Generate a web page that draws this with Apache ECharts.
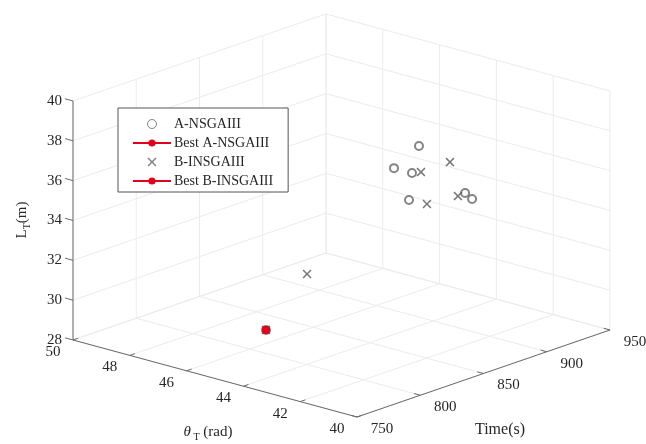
<!DOCTYPE html>
<html><head><meta charset="utf-8">
<script src="https://cdn.jsdelivr.net/npm/echarts@6/dist/echarts.min.js"></script>
<style>html,body{margin:0;padding:0;background:#fff}#c{width:646px;height:444px}</style>
</head><body><div id="c"></div>
<script>
// ---- tick values ----
const thetaTicks = [40, 42, 44, 46, 48, 50];
const timeTicks  = [750, 800, 850, 900, 950];
const lenTicks   = [28, 30, 32, 34, 36, 38, 40];

// ---- A-NSGAIII solutions ----
const aTheta = [44.0, 45.0, 44.5, 44.2, 43.5, 43.2, 46.5];
const aTime  = [888.8, 891.5, 894.5, 885.4, 914.0, 912.8, 824.0];
const aLen   = [37.03, 35.47, 35.35, 34.31, 34.31, 34.15, 28.24];

// ---- B-INSGAIII solutions ----
const bTheta = [43.8, 44.3, 44.0, 43.6, 46.0, 46.5];
const bTime  = [908.8, 897.1, 895.1, 910.6, 845.2, 824.0];
const bLen   = [35.86, 35.42, 33.98, 34.19, 30.78, 28.24];

// ---- best solutions ----
const bestATheta = [46.5], bestATime = [824.0], bestALen = [28.24];
const bestBTheta = [46.5], bestBTime = [824.0], bestBLen = [28.24];

// ---- oblique projection of the unit box onto a [0,1]x[0,1] plane ----
const TH0 = thetaTicks[0], TH1 = thetaTicks[thetaTicks.length - 1];
const TM0 = timeTicks[0], TM1 = timeTicks[timeTicks.length - 1];
const L0 = lenTicks[0], L1 = lenTicks[lenTicks.length - 1];
const V = { o: [0.5289, 0], th: [-0.5289, 0.1911], tm: [0.4711, 0.2159], ln: [0, 0.5931] };
function project(th, tm, ln) {
  const a = (th - TH0) / (TH1 - TH0), b = (tm - TM0) / (TM1 - TM0), c = (ln - L0) / (L1 - L0);
  return [V.o[0] + a * V.th[0] + b * V.tm[0] + c * V.ln[0],
          V.o[1] + a * V.th[1] + b * V.tm[1] + c * V.ln[1]];
}
function pts(T, M, L) { return T.map((t, i) => project(t, M[i], L[i])); }

const GRID_C = '#ececec', AXIS_C = '#6a6a6a', TXT_C = '#262626';
const FONT = 'Liberation Serif, Times New Roman, serif';

// ---- box grid + axes segments ----
const segs = [];
function seg(p, q, color) { segs.push({ p: project(...p), q: project(...q), color }); }
// floor L = L0
thetaTicks.forEach(t => seg([t, TM0, L0], [t, TM1, L0], GRID_C));
timeTicks.forEach(m => seg([TH0, m, L0], [TH1, m, L0], GRID_C));
// left back wall theta = TH1
timeTicks.forEach(m => seg([TH1, m, L0], [TH1, m, L1], GRID_C));
lenTicks.forEach(l => seg([TH1, TM0, l], [TH1, TM1, l], GRID_C));
// right back wall time = TM1
thetaTicks.forEach(t => seg([t, TM1, L0], [t, TM1, L1], GRID_C));
lenTicks.forEach(l => seg([TH0, TM1, l], [TH1, TM1, l], GRID_C));
// axes
seg([TH1, TM0, L0], [TH1, TM0, L1], AXIS_C);
seg([TH0, TM0, L0], [TH1, TM0, L0], AXIS_C);
seg([TH0, TM0, L0], [TH0, TM1, L0], AXIS_C);
// tick marks
thetaTicks.forEach(t => seg([t, TM0, L0], [t, TM0 + 4, L0], AXIS_C));
timeTicks.forEach(m => seg([TH0, m, L0], [TH0 + 0.22, m, L0], AXIS_C));
lenTicks.forEach(l => seg([TH1, TM0, l], [TH1 + 0.28, TM0, l], AXIS_C));

// ---- tick labels ----
const labels = [];
lenTicks.forEach(l => labels.push({ p: project(TH1, TM0, l), text: String(l), dx: -11, dy: 0, align: 'right' }));
thetaTicks.forEach(t => labels.push({ p: project(t, TM0, L0), text: String(t), dx: -20, dy: 12, align: 'center' }));
timeTicks.forEach(m => labels.push({ p: project(TH0, m, L0), text: String(m), dx: 25, dy: 12, align: 'center' }));

const chart = echarts.init(document.getElementById('c'), null, { renderer: 'canvas' });
const xMark = 'path://M0,1.2L1.2,0L5,3.8L8.8,0L10,1.2L6.2,5L10,8.8L8.8,10L5,6.2L1.2,10L0,8.8L3.8,5Z';

chart.setOption({
  animation: false,
  backgroundColor: '#fff',
  grid: { left: 73, top: 14, width: 537, height: 403 },
  xAxis: { type: 'value', min: 0, max: 1, show: false },
  yAxis: { type: 'value', min: 0, max: 1, show: false },
  legend: {
    orient: 'vertical', left: 118, top: 108,
    padding: [9, 15, 4, 14], itemGap: 5, itemWidth: 38, itemHeight: 9,
    backgroundColor: '#fff', borderColor: '#555', borderWidth: 1,
    selectedMode: false,
    textStyle: { fontFamily: FONT, fontSize: 14, lineHeight: 14, color: TXT_C, padding: [0, 0, 0, -2] },
    data: [
      { name: 'A-NSGAIII', icon: 'circle', itemStyle: { color: '#fff', borderColor: '#666', borderWidth: 1 } },
      { name: 'Best A-NSGAIII' },
      { name: 'B-INSGAIII', icon: xMark, itemStyle: { color: '#666' } },
      { name: 'Best B-INSGAIII' }
    ]
  },
  graphic: [
    { type: 'text', x: 22, y: 220, rotation: Math.PI / 2, style: {
      text: '{a|L}{s|T}{a|(m)}', align: 'center', verticalAlign: 'middle', fill: TXT_C,
      rich: { a: { fontFamily: FONT, fontSize: 15, lineHeight: 20, verticalAlign: 'middle' },
              s: { fontFamily: FONT, fontSize: 10, lineHeight: 10, verticalAlign: 'bottom' } } } },
    { type: 'text', x: 208, y: 432, style: {
      text: '{i|θ}{s| T}{a| (rad)}', align: 'center', verticalAlign: 'middle', fill: TXT_C,
      rich: { i: { fontFamily: FONT, fontSize: 15, fontStyle: 'italic', lineHeight: 20, verticalAlign: 'middle' },
              a: { fontFamily: FONT, fontSize: 15, lineHeight: 20, verticalAlign: 'middle' },
              s: { fontFamily: FONT, fontSize: 10, lineHeight: 10, verticalAlign: 'bottom' } } } },
    { type: 'text', x: 500, y: 430, style: { text: 'Time(s)', align: 'center', verticalAlign: 'middle',
      fill: TXT_C, font: '16px ' + FONT } }
  ],
  series: [
    {
      type: 'custom', name: 'box', silent: true, clip: false, z: 1,
      encode: { x: [0, 2], y: [1, 3] },
      data: segs.map(s => [s.p[0], s.p[1], s.q[0], s.q[1]]),
      renderItem: (params, api) => {
        const s = segs[params.dataIndex];
        const p = api.coord([api.value(0), api.value(1)]);
        const q = api.coord([api.value(2), api.value(3)]);
        return { type: 'line', shape: { x1: p[0], y1: p[1], x2: q[0], y2: q[1] },
                 style: { stroke: s.color, lineWidth: 1 } };
      }
    },
    {
      type: 'custom', name: 'ticklabels', silent: true, clip: false, z: 2,
      data: labels.map(l => l.p),
      renderItem: (params, api) => {
        const l = labels[params.dataIndex];
        const p = api.coord([api.value(0), api.value(1)]);
        return { type: 'text', x: p[0] + l.dx, y: p[1] + l.dy,
                 style: { text: l.text, align: l.align, verticalAlign: 'middle', fill: TXT_C,
                          font: '15px ' + FONT } };
      }
    },
    {
      type: 'scatter', name: 'A-NSGAIII', z: 3, symbol: 'emptyCircle', symbolSize: 8,
      itemStyle: { color: '#666', borderColor: '#666', borderWidth: 1 },
      data: pts(aTheta, aTime, aLen)
    },
    {
      type: 'scatter', name: 'B-INSGAIII', z: 4, symbol: xMark, symbolSize: 9,
      itemStyle: { color: '#555' },
      data: pts(bTheta, bTime, bLen)
    },
    {
      type: 'line', name: 'Best A-NSGAIII', z: 5, symbol: 'circle', symbolSize: 8, showSymbol: true,
      itemStyle: { color: '#e3001b' }, lineStyle: { color: '#e3001b', width: 1 },
      data: pts(bestATheta, bestATime, bestALen)
    },
    {
      type: 'line', name: 'Best B-INSGAIII', z: 6, symbol: 'circle', symbolSize: 8, showSymbol: true,
      itemStyle: { color: '#e3001b' }, lineStyle: { color: '#e3001b', width: 1 },
      data: pts(bestBTheta, bestBTime, bestBLen)
    }
  ]
});
</script></body></html>
